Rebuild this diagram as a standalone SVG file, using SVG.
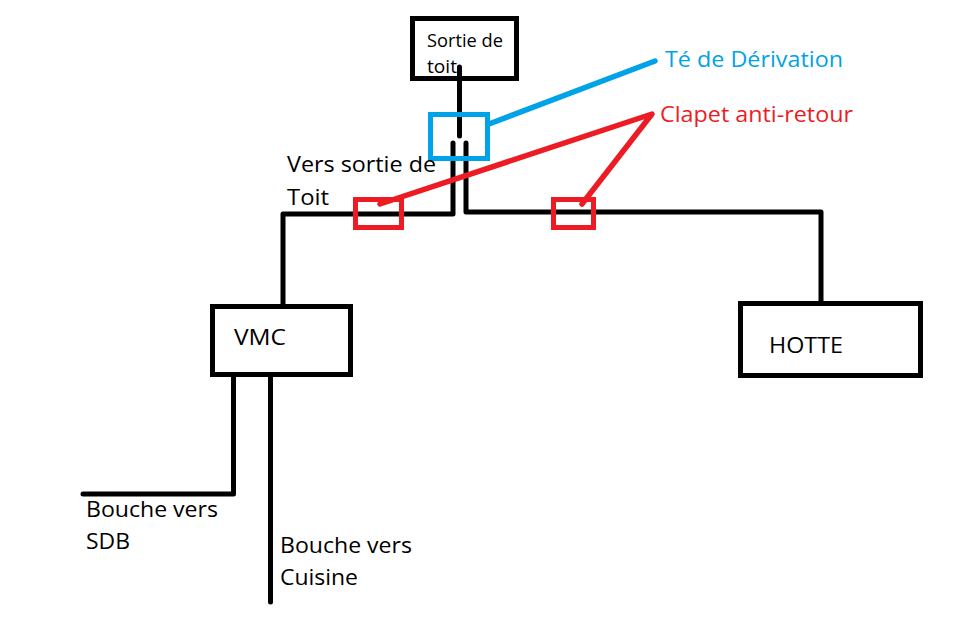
<svg xmlns="http://www.w3.org/2000/svg" width="960" height="628" viewBox="0 0 960 628">
<style>
text{font-family:"Open Sans","Noto Sans","Liberation Sans",sans-serif;fill:#000;font-size:22.5px}
.box{fill:#fff;stroke:#000;stroke-width:5}
.k{fill:none;stroke:#000;stroke-width:5;stroke-linecap:round;stroke-linejoin:round}
.r{fill:none;stroke:#ed1c24;stroke-width:5}
.b{fill:none;stroke:#00a2e8;stroke-width:5}
.d{stroke-width:5.500;stroke-linecap:round;stroke-linejoin:round}
</style>
<rect width="960" height="628" fill="#fff"/>
<g id="sortie-toit"><rect class="box" x="412.500" y="18.500" width="104" height="60"/><text x="427" y="47" style="font-size:17.500px" textLength="76" lengthAdjust="spacingAndGlyphs">Sortie de</text><text x="427" y="73" style="font-size:17.500px" textLength="30" lengthAdjust="spacingAndGlyphs">toit</text></g>
<g id="vmc"><rect class="box" x="212.500" y="306.500" width="138" height="68"/><text x="234" y="345" textLength="52" lengthAdjust="spacingAndGlyphs">VMC</text></g>
<g id="hotte"><rect class="box" x="740.500" y="303.500" width="180" height="72"/><text x="769" y="353" textLength="74" lengthAdjust="spacingAndGlyphs">HOTTE</text></g>
<g id="connectors">
<path class="k" d="M459.500 67V136"/>
<path class="k" d="M453 143V214H283V304"/>
<path class="k" d="M466 143V212H821V302"/>
<path class="k" d="M233.500 377V494H83"/>
<path class="k" d="M270.500 377V602"/>
<path class="b d" d="M489 124L655 61"/>
<path class="r d" d="M380 204L652 114L582 204"/>
</g>
<g id="te-derivation"><rect class="b" x="430.500" y="114.500" width="57" height="44"/><text x="665" y="67" style="fill:#00a2e8" textLength="178" lengthAdjust="spacingAndGlyphs">Té de Dérivation</text></g>
<g id="clapet-1"><rect class="r" x="355.500" y="199.500" width="46" height="28"/></g>
<g id="clapet-2"><rect class="r" x="553.500" y="199.500" width="40" height="28"/></g>
<g id="labels">
<text x="660" y="122" style="fill:#ed1c24" textLength="193" lengthAdjust="spacingAndGlyphs">Clapet anti-retour</text>
<text x="287" y="172" textLength="149" lengthAdjust="spacingAndGlyphs">Vers sortie de</text>
<text x="287" y="205" textLength="42" lengthAdjust="spacingAndGlyphs">Toit</text>
<text x="86" y="517" textLength="132" lengthAdjust="spacingAndGlyphs">Bouche vers</text>
<text x="86" y="549" textLength="44" lengthAdjust="spacingAndGlyphs">SDB</text>
<text x="280" y="553" textLength="132" lengthAdjust="spacingAndGlyphs">Bouche vers</text>
<text x="280" y="585" textLength="78" lengthAdjust="spacingAndGlyphs">Cuisine</text>
</g>
</svg>
